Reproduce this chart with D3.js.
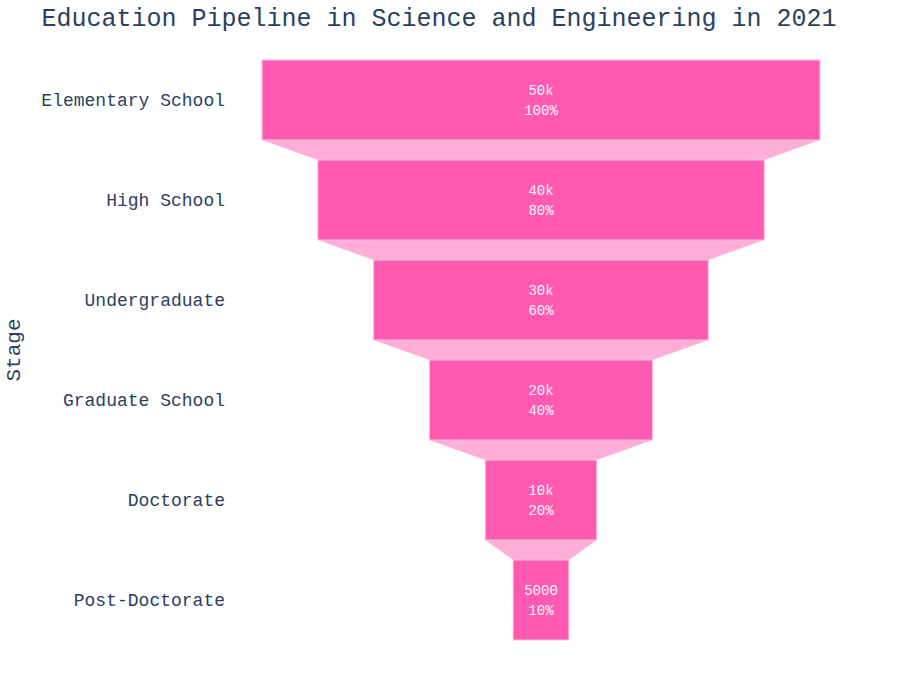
<!DOCTYPE html>
<html>
<head>
<meta charset="utf-8">
<script src="https://cdn.jsdelivr.net/npm/d3@7"></script>
<style>
  body { margin: 0; background: #fff; }
  svg { font-family: "Liberation Mono", "Courier New", monospace; }
</style>
</head>
<body>
<svg width="900" height="700"></svg>
<script>
const width = 900;
const height = 700;
const svg = d3.select("svg");

const stages = ["Elementary School", "High School", "Undergraduate", "Graduate School", "Doctorate", "Post-Doctorate"];
const counts = [50000, 40000, 30000, 20000, 10000, 5000];
const valueLabels = ["50k", "40k", "30k", "20k", "10k", "5000"];

const plotLeft = 262, plotRight = 820;
const centerX = (plotLeft + plotRight) / 2;

const y = d3.scaleBand()
    .domain(stages)
    .range([50, 650])
    .paddingInner(0.2)
    .paddingOuter(0.1);

const w = d3.scaleLinear()
    .domain([0, d3.max(counts)])
    .range([0, plotRight - plotLeft]);

const data = stages.map((s, i) => ({ stage: s, value: counts[i], label: valueLabels[i], pct: Math.round(counts[i] / counts[0] * 100) + "%" }));

// connectors
for (let i = 0; i < data.length - 1; i++) {
    const a = data[i], b = data[i + 1];
    const y0 = y(a.stage) + y.bandwidth();
    const y1 = y(b.stage);
    const pts = [
        [centerX - w(a.value) / 2, y0],
        [centerX + w(a.value) / 2, y0],
        [centerX + w(b.value) / 2, y1],
        [centerX - w(b.value) / 2, y1]
    ];
    svg.append("polygon")
        .attr("points", pts.map(p => p.join(",")).join(" "))
        .attr("fill", "#ffaed7");
}

// bars
svg.selectAll(".bar")
    .data(data)
    .enter()
    .append("rect")
    .attr("class", "bar")
    .attr("x", d => centerX - w(d.value) / 2)
    .attr("y", d => y(d.stage))
    .attr("width", d => w(d.value))
    .attr("height", y.bandwidth())
    .attr("fill", "#ff5ab1")
    .attr("stroke", "#ffc2e2")
    .attr("stroke-width", 1);

// text inside bars
const labels = svg.selectAll(".lbl")
    .data(data)
    .enter()
    .append("text")
    .attr("class", "lbl")
    .attr("x", centerX)
    .attr("text-anchor", "middle")
    .attr("font-size", 14)
    .attr("fill", "#fff4fa");
labels.append("tspan")
    .attr("x", centerX)
    .attr("y", d => y(d.stage) + y.bandwidth() / 2 - 5)
    .text(d => d.label);
labels.append("tspan")
    .attr("x", centerX)
    .attr("y", d => y(d.stage) + y.bandwidth() / 2 + 15)
    .text(d => d.pct);

// y axis tick labels
const axis = d3.axisLeft(y).tickSize(0).tickPadding(0);
const gAxis = svg.append("g")
    .attr("transform", "translate(225,0)")
    .call(axis);
gAxis.select(".domain").remove();
gAxis.selectAll("text")
    .attr("font-family", "'Liberation Mono', 'Courier New', monospace")
    .attr("font-size", 18)
    .attr("fill", "#2a3f5f");

// axis title
svg.append("text")
    .attr("transform", "translate(20,350) rotate(-90)")
    .attr("text-anchor", "middle")
    .attr("font-size", 21)
    .attr("fill", "#2a3f5f")
    .text("Stage");

// chart title
svg.append("text")
    .attr("x", 439)
    .attr("y", 26)
    .attr("text-anchor", "middle")
    .attr("font-size", 25)
    .attr("fill", "#2a3f5f")
    .text("Education Pipeline in Science and Engineering in 2021");
</script>
</body>
</html>
